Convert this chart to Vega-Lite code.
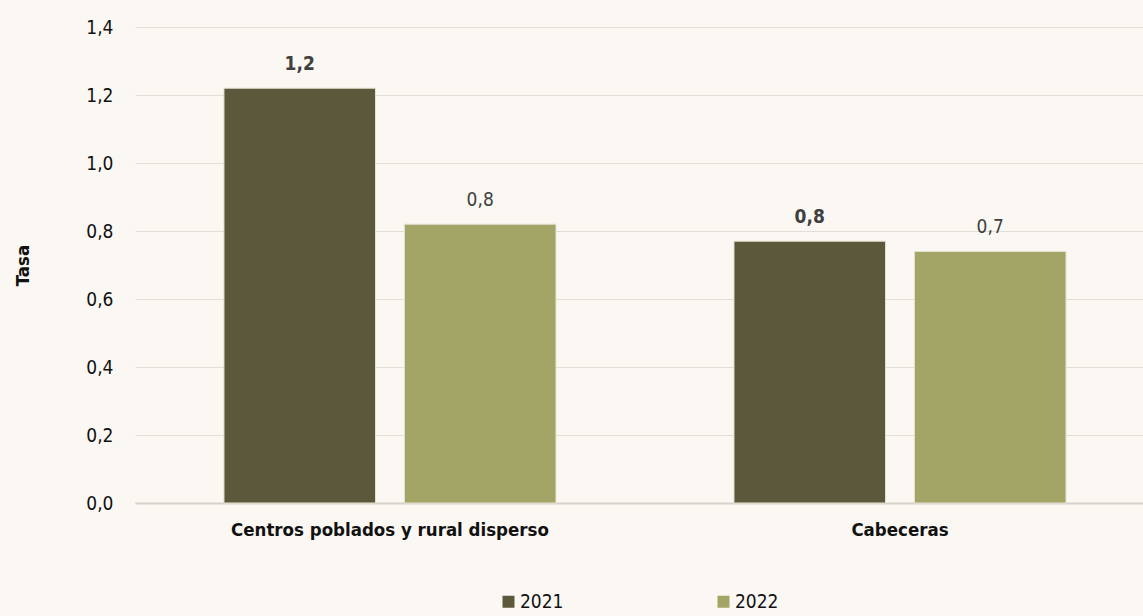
{
  "$schema": "https://vega.github.io/schema/vega-lite/v6.json",
  "width": 1008,
  "height": 476,
  "autosize": "none",
  "padding": {"left": 135, "top": 27, "right": 0, "bottom": 113},
  "background": "#fbf8f3",
  "config": {
    "locale": {"number": {"decimal": ",", "thousands": ".", "grouping": [3], "currency": ["", " €"]}},
    "font": "DejaVu Sans Condensed, Roboto, sans-serif",
    "view": {"stroke": null}
  },
  "data": {
    "values": [
      {"zona": "Centros poblados y rural disperso", "anio": "2021", "tasa": 1.22},
      {"zona": "Centros poblados y rural disperso", "anio": "2022", "tasa": 0.82},
      {"zona": "Cabeceras", "anio": "2021", "tasa": 0.77},
      {"zona": "Cabeceras", "anio": "2022", "tasa": 0.74}
    ]
  },
  "encoding": {
    "x": {
      "field": "zona", "type": "nominal", "sort": null,
      "scale": {"paddingInner": 0.349, "paddingOuter": 0.1627, "align": 0.536},
      "axis": {"title": null, "labelAngle": 0, "labelFontSize": 18.5, "labelFontWeight": "bold", "labelColor": "#111111", "labelPadding": 17, "labelLimit": 0, "ticks": false, "domainColor": "#d6d2ca", "domainWidth": 2}
    },
    "xOffset": {"field": "anio", "type": "nominal", "scale": {"paddingInner": 0.16}},
    "y": {
      "field": "tasa", "type": "quantitative",
      "scale": {"domain": [0, 1.4]},
      "axis": {"title": "Tasa", "titleFontSize": 18.5, "titleFontWeight": "bold", "titleColor": "#111111", "titleX": -113, "titleY": 238, "titleAngle": -90, "titleBaseline": "middle", "titleAlign": "center", "format": ".1f", "values": [0, 0.2, 0.4, 0.6, 0.8, 1.0, 1.2, 1.4], "labelFontSize": 19, "labelColor": "#111111", "labelPadding": 22, "ticks": false, "domain": false, "gridColor": "#e2ded8", "gridWidth": 1}
    }
  },
  "layer": [
    {
      "mark": {"type": "bar", "stroke": "#e6e2d2", "strokeWidth": 1},
      "encoding": {
        "color": {
          "field": "anio", "type": "nominal",
          "scale": {"domain": ["2021", "2022"], "range": ["#5c583b", "#a3a567"]},
          "legend": {"title": null, "orient": "none", "legendX": 364, "legendY": 565, "direction": "horizontal", "symbolType": "square", "symbolSize": 144, "symbolStrokeWidth": 0, "labelFontSize": 19, "labelColor": "#111111", "labelOffset": 2, "columnPadding": 150}
        }
      }
    },
    {
      "transform": [{"filter": "datum.anio == '2021'"}],
      "mark": {"type": "text", "dy": -24, "fontSize": 19, "fontWeight": "bold", "color": "#404040"},
      "encoding": {"text": {"field": "tasa", "type": "quantitative", "format": ".1f"}}
    },
    {
      "transform": [{"filter": "datum.anio == '2022'"}],
      "mark": {"type": "text", "dy": -24, "fontSize": 19, "color": "#404040"},
      "encoding": {"text": {"field": "tasa", "type": "quantitative", "format": ".1f"}}
    }
  ]
}
